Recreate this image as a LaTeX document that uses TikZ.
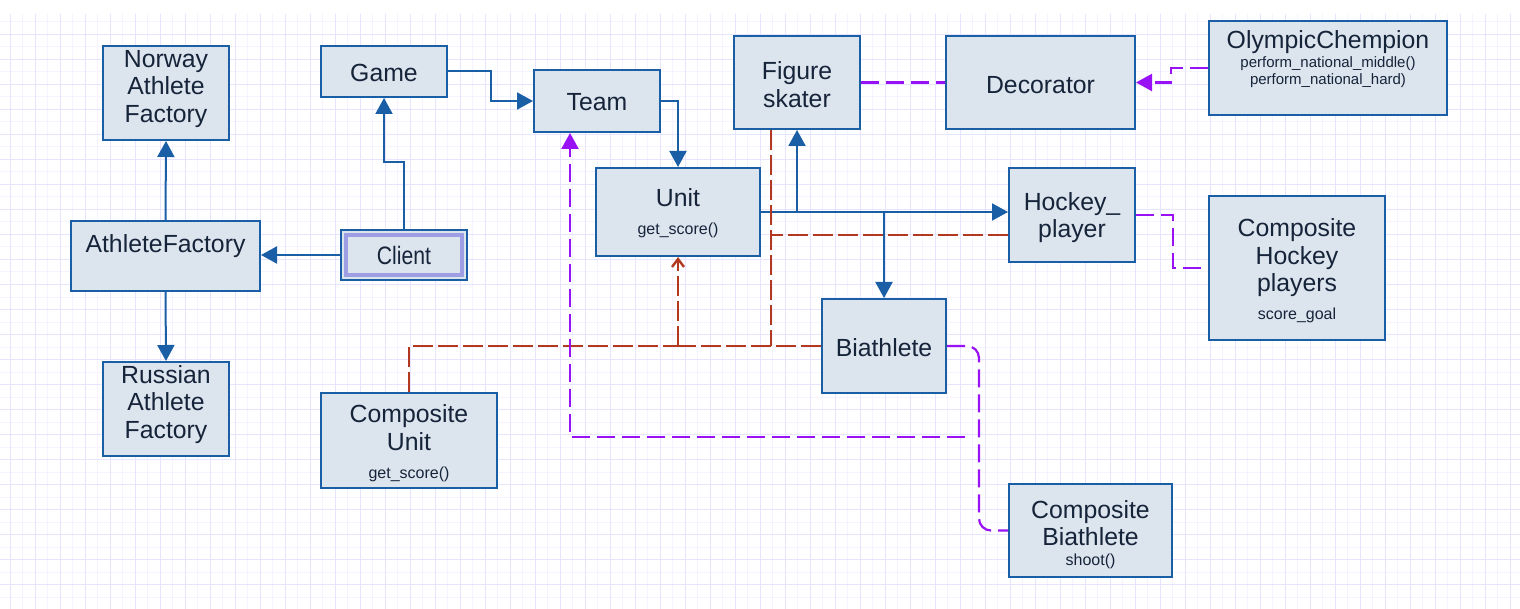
\documentclass[tikz,border=0pt]{standalone}
\usepackage{fontspec}
\setmainfont{Liberation Sans}
\newfontfamily\narrowfont[FakeStretch=0.84]{Liberation Sans}
\usepackage{tikz}
\definecolor{colorBOX}{RGB}{220,228,238}
\definecolor{colorEDGE}{RGB}{26,95,165}
\definecolor{colorTXT}{RGB}{22,36,58}
\definecolor{colorGEN}{RGB}{178,56,32}
\definecolor{colorDEC}{RGB}{153,17,245}
\definecolor{colorCLI}{RGB}{158,158,228}
\definecolor{colorGRIDA}{RGB}{231,228,255}
\definecolor{colorGRIDB}{RGB}{245,243,255}
\usetikzlibrary{arrows.meta}
\tikzset{
   every path/.style={>={Triangle[length=8pt,width=8.5pt]}},
   box/.style={draw=colorEDGE,fill=colorBOX,line width=1pt,text=colorTXT,align=center,inner sep=1pt,font=\fontsize{12.4}{13.8}\selectfont},
   uses/.style={->,color=colorEDGE,line width=1pt},
   gen/.style={color=colorGEN,line width=1.2pt,dash pattern=on 10pt off 2.5pt},
   genhead/.style={-{Straight Barb[length=4pt,width=6pt]}},
   dec/.style={color=colorDEC,line width=1.1pt,dash pattern=on 9pt off 3.5pt},
   clientrim/.style={draw=colorCLI,line width=2pt},
   gridmajor/.style={color=colorGRIDA,line width=0.5pt},
   gridminor/.style={color=colorGRIDB,line width=0.5pt},
}
\newcommand{\sm}{\fontsize{8}{9.5}\selectfont}
\newcommand{\xs}{\fontsize{7.5}{8.5}\selectfont}

\begin{document}
\begin{tikzpicture}[x=0.5pt,y=-0.5pt]
        \useasboundingbox (0,0) rectangle (1520,609);
        \fill[white] (0,0) rectangle (1520,609);

        \foreach \gx in {22.8,47.8,...,1520} \draw[gridminor] (\gx,14) -- (\gx,609);
        \foreach \gy in {22,47,...,609} \draw[gridminor] (0,\gy) -- (1520,\gy);
        \foreach \gx in {10.3,35.3,...,1520} \draw[gridmajor] (\gx,14) -- (\gx,609);
        \foreach \gy in {34.5,59.5,...,609} \draw[gridmajor] (0,\gy) -- (1520,\gy);

        \node[box, minimum width=63pt, minimum height=47pt, text height=32pt] (norway) at (166, 93) {Norway\\Athlete\\Factory};
        \node[box, minimum width=94.5pt, minimum height=35pt, text depth=12.6pt] (afact) at (165.5, 256) {AthleteFactory};
        \node[box, minimum width=63pt, minimum height=47pt, text height=32pt] (russia) at (166, 409) {Russian\\Athlete\\Factory};

        \node[box, minimum width=63pt, minimum height=25.5pt, text height=10pt] (game) at (384, 71.5) {Game};
        \node[box, minimum width=63pt, minimum height=25pt, font=\fontsize{12.6}{14}\narrowfont] (client) at (404, 255) {Client};
        \node[box, minimum width=88pt, minimum height=47.5pt, text height=39.7pt] (cunit) at (409, 440.5) {Composite\\Unit\\[0.2pt]\sm get\_score()};

        \node[box, minimum width=63pt, minimum height=31pt, text height=10pt] (team) at (597, 101) {Team};
        \node[box, minimum width=82pt, minimum height=44pt, text height=24.5pt] (unit) at (678, 212) {Unit\\[0.2pt]\sm get\_score()};
        \node[box, minimum width=63pt, minimum height=46.5pt, text height=24.8pt] (skater) at (797, 82.5) {Figure\\skater};
        \node[box, minimum width=62pt, minimum height=47pt, text height=11pt] (biath) at (884, 346) {Biathlete};

        \node[box, minimum width=94.5pt, minimum height=46.5pt, text height=10.9pt] (decor) at (1040.5, 82.5) {Decorator};
        \node[box, minimum width=119pt, minimum height=47pt, text depth=10.6pt] (olymp) at (1328, 68) {OlympicChempion\\[-4pt]\xs perform\_national\_middle()\\[-5.3pt]\xs perform\_national\_hard)};
        \node[box, minimum width=63pt, minimum height=47pt, text height=25.3pt] (hockey) at (1072, 215) {Hockey\_\\player};
        \node[box, minimum width=88pt, minimum height=72pt, text height=53.5pt] (chp) at (1297, 268) {Composite\\Hockey\\players\\[0.2pt]\sm score\_goal};
        \node[box, minimum width=81.5pt, minimum height=46.5pt, text height=36.5pt] (cbiath) at (1090.5, 530.5) {Composite\\Biathlete\\[-4pt]\sm shoot()};

        \draw[clientrim] ([shift={(3pt,-3pt)}]client.north west) rectangle ([shift={(-3pt,3pt)}]client.south east);

        \coordinate (genhub) at (678, 346);
        \coordinate (genbus) at (771, 346);
        \coordinate (decfree) at (965, 437);

        \draw[uses] (game.east) -- ++(43,0) |- (team.west);
        \draw[uses] (team.east) -| (unit.north);
        \draw[uses] (client.north) -- ++(0,-67) -| (game.south);
        \draw[uses] (client.west) -- (client.west -| afact.east);
        \draw[uses] (afact.north) -- (norway.south);
        \draw[uses] (afact.south) -- (russia.north);
        \draw[uses] (unit.east) -| (skater.south);
        \draw[uses] (unit.east) -- (unit.east -| hockey.west);
        \draw[uses] (unit.east) -| (biath.north);

        \draw[gen, genhead] (genhub) -- (unit.south);
        \draw[gen] (cunit.north) |- (genhub);
        \draw[gen] (biath.west) -- (genhub);
        \draw[gen] (skater.south -| genbus) -- (genbus);
        \draw[gen] ([yshift=-10pt]hockey.west) -- ([yshift=-10pt]hockey.west -| genbus);

        \draw[dec] (skater.east) -- (decor.west);
        \draw[dec, ->] (olymp.west) -- ++(-37,0) |- (decor.east);
        \draw[dec] (hockey.east) -- ++(37,0) |- (chp.west);
        \draw[dec, rounded corners=6pt] (biath.east) -- ++(32,0) |- (cbiath.west);
        \draw[dec, ->] (decfree) -| ([xshift=-13.5pt]team.south);
\end{tikzpicture}
\end{document}
